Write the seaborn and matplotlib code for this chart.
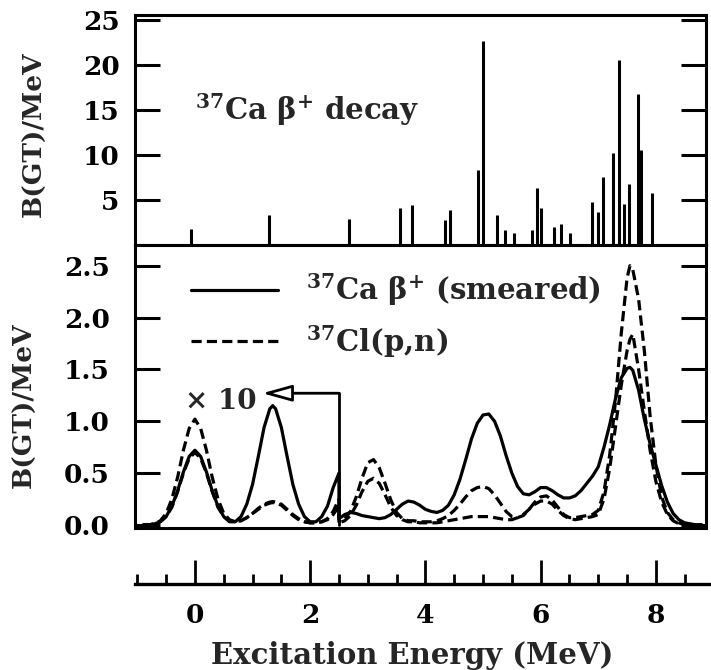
import matplotlib
matplotlib.use("Agg")
import matplotlib.pyplot as plt
from matplotlib.ticker import MultipleLocator, FixedLocator, NullLocator, FormatStrFormatter
import seaborn as sns
import pandas as pd

# ---------------- data ----------------
# top panel: 37Ca beta+ decay B(GT) sticks
STICK_E = [-0.07, 1.28, 2.67, 3.56, 3.77, 4.34, 4.43, 4.91, 5.00, 5.24, 5.38, 5.54,
           5.85, 5.94, 6.01, 6.23, 6.35, 6.51, 6.89, 7.00, 7.08, 7.26, 7.36, 7.45,
           7.53, 7.69, 7.74, 7.93]
STICK_B = [1.8, 3.3, 2.9, 4.1, 4.4, 2.8, 3.9, 8.3, 22.7, 3.3, 1.7, 1.3,
           1.7, 6.3, 4.1, 2.0, 2.3, 1.3, 4.8, 3.7, 7.6, 10.2, 20.5, 4.5,
           6.8, 16.8, 10.5, 5.8]

# bottom panel: smeared distributions (left of 2.5 MeV shown x10)
E = [-0.9, -0.8, -0.7, -0.6, -0.5, -0.4, -0.3, -0.2, -0.1, 0.0, 0.1, 0.2, 0.3, 0.4,
     0.5, 0.6, 0.7, 0.8, 0.9, 1.0, 1.1, 1.2, 1.3, 1.35, 1.4, 1.5, 1.6, 1.7, 1.8, 1.9, 2.0,
     2.1, 2.2, 2.3, 2.4, 2.5,
     2.5, 2.6, 2.7, 2.8, 2.9, 3.0, 3.1, 3.2, 3.3, 3.4, 3.5, 3.6, 3.7, 3.8, 3.9, 4.0,
     4.1, 4.2, 4.3, 4.4, 4.5, 4.6, 4.7, 4.8, 4.9, 5.0, 5.1, 5.2, 5.3, 5.4, 5.5, 5.6,
     5.7, 5.8, 5.9, 6.0, 6.1, 6.2, 6.3, 6.4, 6.5, 6.6, 6.7, 6.8, 6.9, 7.0, 7.1, 7.2,
     7.3, 7.4, 7.5, 7.55, 7.6, 7.7, 7.8, 7.9, 8.0, 8.1, 8.2, 8.3, 8.4, 8.5, 8.6, 8.7, 8.8]

CA_SMEARED = [0.00, 0.00, 0.01, 0.03, 0.08, 0.18, 0.33, 0.51, 0.66, 0.72, 0.66, 0.51, 0.33, 0.18,
              0.08, 0.03, 0.03, 0.08, 0.20, 0.39, 0.66, 0.94, 1.12, 1.15, 1.12, 0.94, 0.66, 0.39, 0.20, 0.08, 0.03,
              0.03, 0.08, 0.18, 0.36, 0.50,
              0.06, 0.10, 0.12, 0.11, 0.09, 0.08, 0.07, 0.06, 0.07, 0.10, 0.15, 0.20, 0.23, 0.22, 0.19, 0.15,
              0.13, 0.12, 0.14, 0.19, 0.29, 0.44, 0.63, 0.83, 0.98, 1.06, 1.07, 1.00, 0.86, 0.67, 0.50, 0.37,
              0.30, 0.29, 0.32, 0.36, 0.36, 0.33, 0.29, 0.26, 0.26, 0.28, 0.33, 0.40, 0.47, 0.56, 0.75, 0.97,
              1.22, 1.42, 1.51, 1.52, 1.49, 1.30, 1.02, 0.78, 0.58, 0.38, 0.22, 0.11, 0.05, 0.02, 0.01, 0.00, 0.00]

CL_PN_A = [0.00, 0.00, 0.01, 0.04, 0.11, 0.25, 0.46, 0.72, 0.93, 1.02, 0.93, 0.72, 0.46, 0.25,
           0.11, 0.05, 0.03, 0.04, 0.07, 0.11, 0.16, 0.20, 0.22, 0.225, 0.22, 0.20, 0.15, 0.10, 0.06, 0.03, 0.02,
           0.02, 0.03, 0.06, 0.13, 0.25,
           0.03, 0.06, 0.13, 0.27, 0.45, 0.60, 0.63, 0.55, 0.40, 0.24, 0.12, 0.06, 0.04, 0.04, 0.03, 0.03,
           0.03, 0.04, 0.06, 0.09, 0.14, 0.20, 0.27, 0.33, 0.36, 0.37, 0.35, 0.29, 0.21, 0.13, 0.08, 0.07,
           0.09, 0.15, 0.22, 0.27, 0.28, 0.24, 0.17, 0.10, 0.07, 0.07, 0.08, 0.09, 0.10, 0.14, 0.32, 0.68,
           1.20, 1.85, 2.38, 2.50, 2.46, 2.18, 1.68, 1.05, 0.58, 0.27, 0.12, 0.05, 0.02, 0.00, 0.00, 0.00, 0.00]

CL_PN_B = [0.00, 0.00, 0.01, 0.03, 0.08, 0.17, 0.32, 0.50, 0.64, 0.70, 0.64, 0.50, 0.32, 0.17,
           0.08, 0.04, 0.03, 0.04, 0.07, 0.11, 0.15, 0.19, 0.21, 0.215, 0.21, 0.19, 0.14, 0.09, 0.05, 0.03, 0.02,
           0.02, 0.03, 0.05, 0.10, 0.18,
           0.02, 0.04, 0.09, 0.19, 0.32, 0.42, 0.45, 0.40, 0.29, 0.17, 0.09, 0.05, 0.03, 0.03, 0.02, 0.02,
           0.02, 0.02, 0.03, 0.04, 0.05, 0.06, 0.07, 0.08, 0.08, 0.08, 0.08, 0.07, 0.06, 0.05, 0.05, 0.07,
           0.10, 0.15, 0.20, 0.23, 0.23, 0.20, 0.14, 0.09, 0.06, 0.05, 0.06, 0.07, 0.08, 0.10, 0.25, 0.55,
           0.95, 1.35, 1.68, 1.79, 1.84, 1.50, 1.10, 0.72, 0.42, 0.22, 0.10, 0.04, 0.01, 0.00, 0.00, 0.00, 0.00]

TOP_YTICKS = [5, 10, 15, 20, 25]
BOT_YTICKS = [0.0, 0.5, 1.0, 1.5, 2.0, 2.5]
X_TICKS = [0, 2, 4, 6, 8]
SCALE_EDGE = 2.5       # boundary of the x10 region
ARROW_Y = 1.27
ARROW_TIP = 1.17

LABEL_CA = r"$^{37}$Ca $\beta^{+}$ (smeared)"
LABEL_CL = r"$^{37}$Cl(p,n)"
TOP_TEXT = r"$^{37}$Ca $\beta^{+}$ decay"
YLABEL = "B(GT)/MeV"
XLABEL = "Excitation Energy (MeV)"

# ---------------- style ----------------
sns.set_theme(style="ticks")
plt.rcParams["font.family"] = ["DejaVu Serif", "DejaVu Sans"]
plt.rcParams["font.weight"] = "bold"
plt.rcParams["axes.labelweight"] = "bold"
plt.rcParams["mathtext.default"] = "regular"
plt.rcParams["axes.linewidth"] = 2.2
plt.rcParams["axes.edgecolor"] = "black"

fig = plt.figure(figsize=(7.11, 6.70), dpi=100)
L, R = 135 / 711, 706 / 711
ax_top = fig.add_axes([L, 1 - 245 / 670, R - L, (245 - 15) / 670])
ax_bot = fig.add_axes([L, 1 - 528 / 670, R - L, (528 - 245) / 670])
ax_x = fig.add_axes([L, 1 - 584 / 670, 1.0 - L, 30 / 670])

XLIM_PANEL = (-1.04, 8.87)
XLIM_STRIP = (-1.04, 8.96)

# ---------------- top panel ----------------
ax_top.vlines(STICK_E, 0, STICK_B, color="black", lw=2.2)
ax_top.set_xlim(*XLIM_PANEL)
ax_top.set_ylim(0, 25.55)
ax_top.yaxis.set_major_locator(FixedLocator(TOP_YTICKS))
ax_top.xaxis.set_major_locator(NullLocator())
ax_top.tick_params(axis="y", which="major", direction="in", length=18, width=2.2,
                   left=True, right=True, labelsize=19, pad=11, colors="black")
ax_top.set_ylabel(YLABEL, fontsize=19)
ax_top.yaxis.set_label_coords(-0.154, 0.48)
ax_top.text(0.0, 15.0, TOP_TEXT, fontsize=21, fontweight="bold", ha="left", va="center")

# ---------------- bottom panel ----------------
df = pd.DataFrame({"E": E, "ca": CA_SMEARED, "a": CL_PN_A, "b": CL_PN_B})
dash = (0, (3.2, 1.6))
sns.lineplot(data=df, x="E", y="ca", ax=ax_bot, estimator=None, sort=False,
             color="black", lw=2.3, label=LABEL_CA)
sns.lineplot(data=df, x="E", y="a", ax=ax_bot, estimator=None, sort=False,
             color="black", lw=2.3, linestyle=dash, label=LABEL_CL)
sns.lineplot(data=df, x="E", y="b", ax=ax_bot, estimator=None, sort=False,
             color="black", lw=2.3, linestyle=dash)

ax_bot.plot([SCALE_EDGE, SCALE_EDGE], [0, ARROW_Y], color="black", lw=2.0)
ax_bot.annotate("", xy=(ARROW_TIP, ARROW_Y), xytext=(SCALE_EDGE, ARROW_Y),
                arrowprops=dict(arrowstyle="-|>,head_length=0.9,head_width=0.25",
                                fc="white", ec="black", lw=2.0,
                                shrinkA=0, shrinkB=0, mutation_scale=20))
ax_bot.text(0.45, 1.19, "× 10", fontsize=20, fontweight="bold", ha="center", va="center")

ax_bot.set_xlim(*XLIM_PANEL)
ax_bot.set_ylim(-0.03, 2.70)
ax_bot.yaxis.set_major_locator(FixedLocator(BOT_YTICKS))
ax_bot.yaxis.set_major_formatter(FormatStrFormatter("%.1f"))
ax_bot.xaxis.set_major_locator(NullLocator())
ax_bot.tick_params(axis="y", which="major", direction="in", length=18, width=2.2,
                   left=True, right=True, labelsize=19, pad=18, colors="black")
ax_bot.set_xlabel("")
ax_bot.set_ylabel(YLABEL, fontsize=19)
ax_bot.yaxis.set_label_coords(-0.172, 0.435)

leg = ax_bot.legend(loc="upper left", bbox_to_anchor=(0.098, 0.905), frameon=False,
                    fontsize=21, handlelength=3.0, handletextpad=0.95,
                    labelspacing=0.5, borderaxespad=0, borderpad=0)
for t in leg.get_texts():
    t.set_fontweight("bold")

# ---------------- bottom tick strip ----------------
ax_x.set_xlim(*XLIM_STRIP)
ax_x.set_ylim(0, 1)
for s in ["top", "left", "right"]:
    ax_x.spines[s].set_visible(False)
ax_x.spines["bottom"].set_linewidth(2.4)
ax_x.patch.set_alpha(0)
ax_x.yaxis.set_major_locator(NullLocator())
ax_x.xaxis.set_major_locator(FixedLocator(X_TICKS))
ax_x.xaxis.set_minor_locator(MultipleLocator(0.5))
ax_x.tick_params(axis="x", which="major", direction="in", length=17, width=2.0,
                 labelsize=19, pad=14, colors="black")
ax_x.tick_params(axis="x", which="minor", direction="in", length=7, width=2.0, colors="black")
ax_x.set_xlabel(XLABEL, fontsize=21)
ax_x.xaxis.set_label_coords((412 - 135) / (711 - 135), -1.9)

fig.savefig("out.png", dpi=100)
